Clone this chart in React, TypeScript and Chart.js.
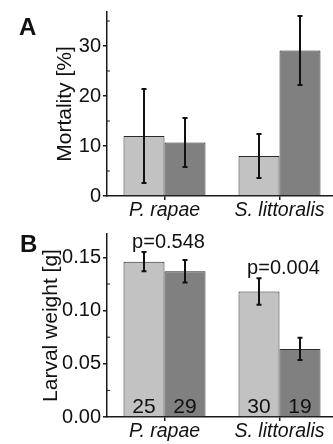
import React, { useEffect, useRef } from 'react';
import { Chart, registerables } from 'chart.js';

Chart.register(...registerables);

// ---- data ----
const categories = ['P. rapae', 'S. littoralis'];

const mortalityLight = [12.0, 8.0];
const mortalityLightErr = [9.4, 4.4];
const mortalityDark = [10.7, 29.1];
const mortalityDarkErr = [4.9, 6.9];
const mortalityTicks = [0, 10, 20, 30];
const mortalityMinorTicks = [5, 15, 25, 35];
const mortalityMax = 36.8;

const weightLight = [0.146, 0.118];
const weightLightErr = [0.009, 0.0125];
const weightDark = [0.137, 0.064];
const weightDarkErr = [0.0105, 0.0105];
const weightTicks = [0, 0.05, 0.1, 0.15];
const weightMinorTicks = [0.025, 0.075, 0.125];
const weightMax = 0.172;

const pValues = ['p=0.548', 'p=0.004'];
const nLight = [25, 30];
const nDark = [29, 19];

// ---- styles ----
const FONT = '"Liberation Sans", Arial, Helvetica, sans-serif';
const LIGHT = '#c2c2c2';
const DARK = '#808080';
const EDGE = '#2a2a2a';
const AXIS = '#1a1a1a';
const CANVAS_W = 345;
const CANVAS_H = 222;

function errorBarPlugin(errs: number[][]) {
  return {
    id: 'errbars',
    afterDatasetsDraw(chart: any) {
      const ctx = chart.ctx;
      const ys = chart.scales.y;
      ctx.save();
      ctx.strokeStyle = '#111';
      ctx.lineWidth = 2;
      chart.data.datasets.forEach((ds: any, i: number) => {
        const meta = chart.getDatasetMeta(i);
        meta.data.forEach((el: any, j: number) => {
          const v = ds.data[j] as number;
          const e = errs[i][j];
          const x = el.x;
          const y1 = ys.getPixelForValue(v + e);
          const y2 = ys.getPixelForValue(v - e);
          ctx.beginPath();
          ctx.moveTo(x, y1);
          ctx.lineTo(x, y2);
          ctx.moveTo(x - 2.5, y1);
          ctx.lineTo(x + 2.5, y1);
          ctx.moveTo(x - 2.5, y2);
          ctx.lineTo(x + 2.5, y2);
          ctx.stroke();
        });
      });
      ctx.restore();
    },
  };
}

function minorTickPlugin(minors: number[]) {
  return {
    id: 'minorticks',
    afterDraw(chart: any) {
      const ctx = chart.ctx;
      const ys = chart.scales.y;
      const left = chart.chartArea.left;
      ctx.save();
      ctx.strokeStyle = AXIS;
      ctx.lineWidth = 1;
      minors.forEach((v) => {
        const y = ys.getPixelForValue(v);
        ctx.beginPath();
        ctx.moveTo(left, y);
        ctx.lineTo(left + 3, y);
        ctx.stroke();
      });
      ctx.restore();
    },
  };
}

function labelPlugin(errs: number[][]) {
  return {
    id: 'labels',
    afterDatasetsDraw(chart: any) {
      const ctx = chart.ctx;
      const ys = chart.scales.y;
      const m0 = chart.getDatasetMeta(0);
      const m1 = chart.getDatasetMeta(1);
      const d0 = chart.data.datasets[0].data as number[];
      const d1 = chart.data.datasets[1].data as number[];
      ctx.save();
      ctx.fillStyle = '#111';
      ctx.textAlign = 'center';
      ctx.textBaseline = 'alphabetic';
      // p-values above each group
      ctx.font = `20px ${FONT}`;
      categories.forEach((_, j) => {
        const top = Math.max(d0[j] + errs[0][j], d1[j] + errs[1][j]);
        const x = (m0.data[j].x + m1.data[j].x) / 2 + 4;
        ctx.fillText(pValues[j], x, ys.getPixelForValue(top) - 4);
      });
      // sample sizes at bar bottoms
      ctx.font = `21px ${FONT}`;
      const base = ys.getPixelForValue(0) - 4;
      categories.forEach((_, j) => {
        ctx.fillText(String(nLight[j]), m0.data[j].x, base);
        ctx.fillText(String(nDark[j]), m1.data[j].x, base);
      });
      ctx.restore();
    },
  };
}

function buildConfig(opts: {
  light: number[];
  dark: number[];
  lightErr: number[];
  darkErr: number[];
  ticks: number[];
  minors: number[];
  max: number;
  title: string;
  titlePad: number;
  xHeight: number;
  fmt: (v: number) => string;
  extra: any[];
}) {
  const errs = [opts.lightErr, opts.darkErr];
  return {
    type: 'bar',
    data: {
      labels: categories,
      datasets: [
        {
          data: opts.light,
          backgroundColor: LIGHT,
          borderColor: EDGE,
          borderWidth: 1,
          categoryPercentage: 0.713,
          barPercentage: 1,
        },
        {
          data: opts.dark,
          backgroundColor: DARK,
          borderColor: EDGE,
          borderWidth: 1,
          categoryPercentage: 0.713,
          barPercentage: 1,
        },
      ],
    },
    options: {
      animation: false,
      responsive: false,
      maintainAspectRatio: false,
      devicePixelRatio: 1,
      layout: { padding: { top: 12, right: 8, left: 0, bottom: 0 } },
      plugins: {
        legend: { display: false },
        tooltip: { enabled: false },
        title: { display: false },
      },
      scales: {
        x: {
          type: 'category',
          offset: true,
          grid: {
            display: true,
            drawOnChartArea: false,
            offset: false,
            tickLength: 4,
            color: AXIS,
            lineWidth: 1.5,
          },
          border: { display: true, color: AXIS, width: 1.5 },
          ticks: {
            font: { family: FONT, size: 19.5, style: 'italic', lineHeight: 1 },
            color: '#111',
            padding: 1,
            maxRotation: 0,
            autoSkip: false,
          },
          afterFit: (s: any) => {
            s.height = opts.xHeight;
          },
        },
        y: {
          type: 'linear',
          min: 0,
          max: opts.max,
          afterBuildTicks: (s: any) => {
            s.ticks = opts.ticks.map((v) => ({ value: v }));
          },
          grid: {
            drawOnChartArea: false,
            tickLength: 4,
            color: AXIS,
            lineWidth: 1.5,
          },
          border: { display: true, color: AXIS, width: 1.5 },
          ticks: {
            font: { family: FONT, size: 20, lineHeight: 1 },
            color: '#111',
            padding: 2,
            callback: (v: any) => opts.fmt(Number(v)),
          },
          title: {
            display: true,
            text: opts.title,
            color: '#111',
            font: { family: FONT, size: 21, lineHeight: 1.2 },
            padding: { top: opts.titlePad, bottom: 0 },
          },
          afterFit: (s: any) => {
            s.width = 107;
          },
        },
      },
    },
    plugins: [errorBarPlugin(errs), minorTickPlugin(opts.minors), ...opts.extra.map((f) => f(errs))],
  };
}

export default function App() {
  const refA = useRef<HTMLCanvasElement | null>(null);
  const refB = useRef<HTMLCanvasElement | null>(null);

  useEffect(() => {
    const a = new Chart(
      refA.current as HTMLCanvasElement,
      buildConfig({
        light: mortalityLight,
        dark: mortalityDark,
        lightErr: mortalityLightErr,
        darkErr: mortalityDarkErr,
        ticks: mortalityTicks,
        minors: mortalityMinorTicks,
        max: mortalityMax,
        title: 'Mortality [%]',
        titlePad: 53,
        xHeight: 26,
        fmt: (v) => String(v),
        extra: [],
      }) as any
    );
    const b = new Chart(
      refB.current as HTMLCanvasElement,
      buildConfig({
        light: weightLight,
        dark: weightDark,
        lightErr: weightLightErr,
        darkErr: weightDarkErr,
        ticks: weightTicks,
        minors: weightMinorTicks,
        max: weightMax,
        title: 'Larval weight [g]',
        titlePad: 39,
        xHeight: 27,
        fmt: (v) => v.toFixed(2),
        extra: [labelPlugin],
      }) as any
    );
    return () => {
      a.destroy();
      b.destroy();
    };
  }, []);

  const letter: React.CSSProperties = {
    position: 'absolute',
    fontFamily: FONT,
    fontWeight: 'bold',
    fontSize: 24,
    lineHeight: '24px',
    color: '#111',
  };

  return (
    <div
      style={{
        position: 'fixed',
        left: 0,
        top: 0,
        width: 333,
        height: 444,
        overflow: 'hidden',
        background: '#fff',
      }}
    >
      <canvas
        ref={refA}
        width={CANVAS_W}
        height={CANVAS_H}
        style={{ position: 'absolute', left: 0, top: 0, width: CANVAS_W, height: CANVAS_H }}
      />
      <canvas
        ref={refB}
        width={CANVAS_W}
        height={CANVAS_H}
        style={{ position: 'absolute', left: 0, top: 222, width: CANVAS_W, height: CANVAS_H }}
      />
      <div style={{ ...letter, left: 19, top: 15 }}>A</div>
      <div style={{ ...letter, left: 20, top: 232 }}>B</div>
    </div>
  );
}
